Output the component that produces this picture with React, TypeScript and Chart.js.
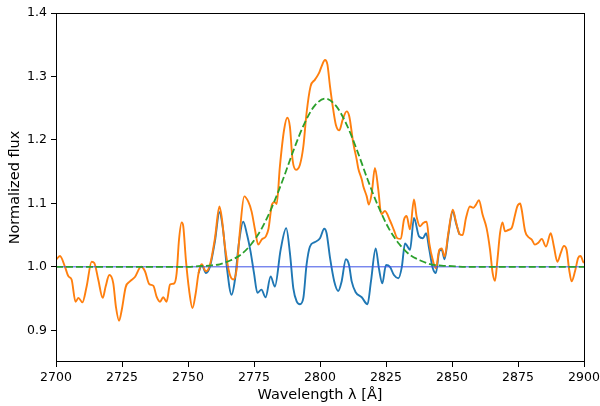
import React, { useEffect, useRef } from 'react';
import { Chart, registerables } from 'chart.js';

Chart.register(...registerables);

// Observed spectrum (orange)
const dataWave = [
  2700, 2701.5, 2703.4, 2704.7, 2705.9, 2707.4, 2708.5, 2710, 2711.6, 2713.5, 2714.5, 2716, 2717.7, 2718.8,
  2720.2, 2721.7, 2722.7, 2723.9, 2724.9, 2726.4, 2728, 2729.9, 2732.2, 2733.7, 2735.3, 2736.9, 2738.1, 2739.4,
  2740.6, 2741.9, 2743.2, 2744.8, 2745.7, 2746.6, 2747.6, 2748.2, 2749.2, 2750.4, 2751.7, 2752.9, 2754.0, 2755.2,
  2756.8, 2758.3, 2760.2, 2761.9, 2762.8, 2764.0, 2765.7, 2767.2, 2768.4, 2769.7, 2771.3, 2772.8, 2774.1, 2775.4,
  2776.6, 2777.9, 2779.5, 2780.5, 2781.8, 2782.8, 2783.6, 2784.8, 2786.4, 2787.6, 2788.6, 2789.6, 2790.9, 2792.4,
  2793.7, 2794.9, 2796.4, 2798.1, 2799.7, 2800.6, 2801.9, 2802.8, 2803.8, 2805, 2806, 2807.3, 2808.6, 2810.1,
  2811.1, 2812.6, 2813.9, 2814.5, 2815.8, 2816.4, 2817.7, 2818.5, 2819.6, 2820.8, 2822.1, 2823.2, 2824.6, 2826.5,
  2828, 2829.3, 2830.6, 2831.8, 2832.8, 2834.1, 2835.6, 2836.6, 2837.9, 2839.1, 2840.4, 2841.4, 2842.7, 2843.9,
  2845.2, 2846.1, 2847.2, 2848.6, 2850.3, 2851.5, 2852.8, 2854, 2855.3, 2856.8, 2858.1, 2859.1, 2860.2, 2861.6,
  2863.1, 2864.4, 2865.4, 2866.3, 2867.2, 2868.2, 2869.1, 2870.1, 2871.3, 2872.6, 2873.9, 2874.7, 2875.8, 2876.4,
  2877.7, 2878.9, 2880.2, 2881.4, 2882.7, 2884, 2885.6, 2887.4, 2888.6, 2889.9, 2891.2, 2892.4, 2893.4, 2894.4,
  2895.3, 2896.6, 2897.8, 2898.7, 2899.7, 2900,
];
const dataFlux = [
  1.011, 1.017, 1.0, 0.985, 0.98, 0.945, 0.951, 0.944, 0.969, 1.008, 1.006, 0.98, 0.951, 0.969,
  0.987, 0.974, 0.937, 0.915, 0.932, 0.968, 0.977, 0.984, 1.0, 0.993, 0.973, 0.97, 0.953, 0.945,
  0.952, 0.945, 0.972, 0.974, 0.99, 1.043, 1.07, 1.064, 1.011, 0.964, 0.935, 0.958, 0.99, 1.004,
  0.993, 1.003, 1.045, 1.095, 1.077, 1.032, 0.99, 0.98, 0.995, 1.058, 1.111, 1.103, 1.087, 1.058,
  1.035, 1.043, 1.048, 1.06, 1.098, 1.102, 1.099, 1.158, 1.216, 1.235, 1.221, 1.169, 1.153, 1.161,
  1.19, 1.242, 1.284, 1.295, 1.306, 1.316, 1.326, 1.319, 1.284, 1.248, 1.224, 1.215, 1.232, 1.245,
  1.237, 1.195, 1.169, 1.155, 1.138, 1.127, 1.111, 1.098, 1.116, 1.156, 1.121, 1.083, 1.088, 1.073,
  1.058, 1.045, 1.044, 1.074, 1.08, 1.059, 1.106, 1.079, 1.064, 1.069, 1.071, 1.037, 1.011, 0.998,
  1.027, 1.029, 1.016, 1.053, 1.09, 1.071, 1.052, 1.05, 1.077, 1.095, 1.093, 1.098, 1.105, 1.082,
  1.061, 1.027, 0.99, 0.978, 1.011, 1.053, 1.07, 1.056, 1.058, 1.061, 1.082, 1.095, 1.1, 1.09,
  1.056, 1.047, 1.043, 1.035, 1.038, 1.044, 1.032, 1.053, 1.032, 1.008, 1.022, 1.033, 1.027, 0.995,
  0.977, 0.993, 1.014, 1.017, 1.008, 1.006,
];

// Residual after removing the fitted line (blue)
const residWave = [
  2754.0, 2755.2, 2756.8, 2758.3, 2760.2, 2761.9, 2763.3, 2764.7, 2766.5, 2767.8, 2769.3, 2770.9, 2772.4, 2773.7,
  2775, 2776.3, 2777.8, 2779.4, 2781.3, 2782.9, 2785.1, 2787.2, 2788.6, 2789.9, 2791.2, 2792.4, 2793.7, 2794.9,
  2796.2, 2798.1, 2800, 2801.6, 2802.5, 2803.8, 2805.4, 2806.9, 2808.2, 2809.8, 2811, 2812, 2813.5, 2815.8,
  2818, 2819.3, 2821.1, 2822.3, 2823.6, 2825, 2826.5, 2828, 2829.7, 2831, 2832.2, 2834.1, 2835.6, 2837.5,
  2839, 2840.2, 2841.4, 2842.7, 2843.9, 2845.2, 2846.1, 2847.2, 2848.6, 2850.3, 2851.5, 2852.8,
];
const residFlux = [
  0.99, 1.003, 0.99, 1.0, 1.04, 1.086, 1.058, 1.0, 0.956, 0.98, 1.038, 1.071, 1.05, 1.024,
  0.99, 0.959, 0.964, 0.952, 0.985, 0.969, 1.027, 1.061, 1.022, 0.966, 0.945, 0.941, 0.951, 1.003,
  1.032, 1.039, 1.045, 1.06, 1.053, 1.014, 0.977, 0.962, 0.977, 1.012, 1.003, 0.977, 0.96, 0.952,
  0.941, 0.977, 1.029, 0.998, 0.974, 1.003, 1.0, 0.987, 0.982, 1.0, 1.037, 1.027, 1.077, 1.048,
  1.045, 1.053, 1.027, 0.998, 0.99, 1.025, 1.027, 1.012, 1.05, 1.088, 1.069, 1.051,
];

// Fitted emission line (green dashed)
const fitWave = [
  2700, 2750, 2754, 2758, 2762, 2766, 2770, 2774, 2778, 2782, 2786, 2790, 2794, 2798, 2802,
  2806, 2810, 2814, 2818, 2822, 2826, 2830, 2834, 2838, 2842, 2846, 2850, 2854, 2900,
];
const fitFlux = [
  1.0, 1.0, 1.001, 1.002, 1.004, 1.01, 1.019, 1.036, 1.061, 1.096, 1.138, 1.184, 1.225, 1.254, 1.265,
  1.254, 1.225, 1.184, 1.138, 1.096, 1.061, 1.036, 1.019, 1.01, 1.004, 1.002, 1.001, 1.0, 1.0,
];

// Continuum level (thin blue)
const baseWave = [2700, 2900];
const baseFlux = [1.0, 1.0];

const xTicks = [2700, 2725, 2750, 2775, 2800, 2825, 2850, 2875, 2900];
const yTicks = [0.9, 1.0, 1.1, 1.2, 1.3, 1.4];

const toPts = (xs: number[], ys: number[]) => xs.map((x, i) => ({ x, y: ys[i] }));

const framePlugin = {
  id: 'frame',
  afterDraw(chart: any) {
    const { ctx, chartArea: a } = chart;
    ctx.save();
    ctx.strokeStyle = '#000';
    ctx.lineWidth = 1;
    ctx.strokeRect(Math.round(a.left) + 0.5, Math.round(a.top) + 0.5, Math.round(a.right - a.left), Math.round(a.bottom - a.top) - 1);
    ctx.restore();
  },
};

export default function App() {
  const ref = useRef<HTMLCanvasElement>(null);
  useEffect(() => {
    document.body.style.margin = '0';
    const font = 'DejaVu Sans';
    const chart = new Chart(ref.current!, {
      type: 'line',
      data: {
        datasets: [
          {
            data: toPts(fitWave, fitFlux),
            borderColor: '#2ca02c',
            borderWidth: 1.8,
            borderDash: [7, 3],
            pointRadius: 0,
            cubicInterpolationMode: 'monotone',
            order: 0,
          },
          {
            data: toPts(baseWave, baseFlux),
            borderColor: 'rgb(60,80,230)',
            borderWidth: 1,
            pointRadius: 0,
            order: 1,
          },
          {
            data: toPts(dataWave, dataFlux),
            borderColor: '#ff7f0e',
            borderWidth: 1.9,
            pointRadius: 0,
            cubicInterpolationMode: 'monotone',
            order: 2,
          },
          {
            data: toPts(residWave, residFlux),
            borderColor: '#1f77b4',
            borderWidth: 1.9,
            pointRadius: 0,
            cubicInterpolationMode: 'monotone',
            order: 3,
          },
        ],
      },
      options: {
        animation: false,
        responsive: false,
        events: [],
        layout: { padding: { top: 13, right: 16, left: 0, bottom: 0 } },
        plugins: { legend: { display: false }, tooltip: { enabled: false } },
        scales: {
          x: {
            type: 'linear',
            min: 2700,
            max: 2900,
            afterBuildTicks: (s: any) => { s.ticks = xTicks.map((v) => ({ value: v })); },
            afterFit: (s: any) => { s.height = 44; s.paddingLeft = 0; s.paddingRight = 0; },
            border: { display: false },
            grid: { drawOnChartArea: false, drawTicks: true, tickLength: 5, tickColor: '#000', tickWidth: 1 },
            ticks: { color: '#000', font: { family: font, size: 12.5 }, padding: 3, maxRotation: 0, autoSkip: false, callback: (v: any) => String(v) },
            title: { display: true, text: 'Wavelength λ [Å]', color: '#000', font: { family: font, size: 14.5 }, padding: { top: 0, bottom: 2 } },
          },
          y: {
            type: 'linear',
            min: 0.85,
            max: 1.4,
            afterBuildTicks: (s: any) => { s.ticks = yTicks.map((v) => ({ value: v })); },
            afterFit: (s: any) => { s.width = 56; s.paddingTop = 0; s.paddingBottom = 0; },
            border: { display: false },
            grid: { drawOnChartArea: false, drawTicks: true, tickLength: 5, tickColor: '#000', tickWidth: 1 },
            ticks: { color: '#000', font: { family: font, size: 12.5 }, padding: 4, callback: (v: any) => Number(v).toFixed(1) },
            title: { display: true, text: 'Normalized flux', color: '#000', font: { family: font, size: 14.5 }, padding: { top: 7, bottom: 0 } },
          },
        },
      },
      plugins: [framePlugin],
    } as any);
    return () => chart.destroy();
  }, []);
  return (
    <div style={{ width: 600, height: 406 }}>
      <canvas ref={ref} width={600} height={406} style={{ display: 'block' }} />
    </div>
  );
}
